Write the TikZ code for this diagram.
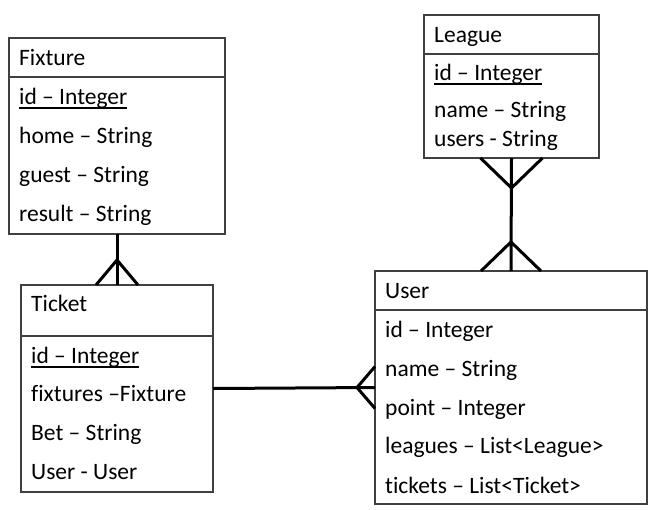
\documentclass[tikz,border=0pt]{standalone}
\usepackage{fontspec}
\setmainfont{Carlito}[Ligatures=NoCommon]
\newcommand\idul[1]{\setbox0\hbox{#1}\rlap{\rule[-4.5pt]{\wd0}{1.8pt}}\box0}
\begin{document}
\begin{tikzpicture}[x=1pt,y=-1pt,
  box/.style={draw=black!75, line width=1.1pt, inner sep=0pt, outer sep=0pt, anchor=north west},
  divline/.style={draw=black!75, line width=1.1pt},
  txt/.style={anchor=base west, inner sep=0pt, font=\fontsize{23.5}{28}\selectfont},
  conn/.style={draw=black, line width=3pt}]
\useasboundingbox (0,0) rectangle (666,509);
% boxes
\node[box, minimum width=216, minimum height=196] (fixture) at (9,38) {};
\node[box, minimum width=175, minimum height=143] (league) at (424,15) {};
\node[box, minimum width=192, minimum height=207] (ticket) at (21,285) {};
\node[box, minimum width=272, minimum height=233] (user) at (375,271) {};
% dividers
\draw[divline] (fixture.west |- 0,77) -- (fixture.east |- 0,77);
\draw[divline] (league.west |- 0,54) -- (league.east |- 0,54);
\draw[divline] (ticket.west |- 0,336) -- (ticket.east |- 0,336);
\draw[divline] (user.west |- 0,310) -- (user.east |- 0,310);
% Fixture texts
\node[txt] (f0) at (19,65) {Fixture};
\node[txt] (f1) at (19,104) {\idul{id – Integer}};
\node[txt] (f2) at (19,143) {home – String};
\node[txt] (f3) at (19,182) {guest – String};
\node[txt] (f4) at (19,221) {result – String};
% League texts
\node[txt] (l0) at (434,42) {League};
\node[txt] (l1) at (434,80) {\idul{id – Integer}};
\node[txt] (l2) at (434,117) {name – String};
\node[txt] (l3) at (434,146) {users - String};
% Ticket texts
\node[txt] (t0) at (31,311) {Ticket};
\node[txt] (t1) at (31,363) {\idul{id – Integer}};
\node[txt] (t2) at (31,401) {fixtures –Fixture};
\node[txt] (t3) at (31,440) {Bet – String};
\node[txt] (t4) at (31,479) {User - User};
% User texts
\node[txt] (u0) at (385,298) {User};
\node[txt] (u1) at (385,337) {id – Integer};
\node[txt] (u2) at (385,376) {name – String};
\node[txt] (u3) at (385,415) {point – Integer};
\node[txt] (u4) at (385,453) {leagues – List<League>};
\node[txt] (u5) at (385,493) {tickets – List<Ticket>};
% connectors
\draw[conn] (fixture.south) -- (ticket.north);
\draw[conn] (ticket.north) ++(-21,0) -- ++(21,-25) -- ++(21,25);
\draw[conn] (league.south) -- (user.north);
\draw[conn] (league.south) ++(-31,0) -- ++(31,30) -- ++(31,-30);
\draw[conn] (user.north) ++(-30,0) -- ++(30,-29) -- ++(30,29);
\draw[conn] (ticket.east) -- (user.west);
\draw[conn] (user.west) ++(0,-21) -- ++(-18,21) -- ++(18,21);
\end{tikzpicture}
\end{document}
